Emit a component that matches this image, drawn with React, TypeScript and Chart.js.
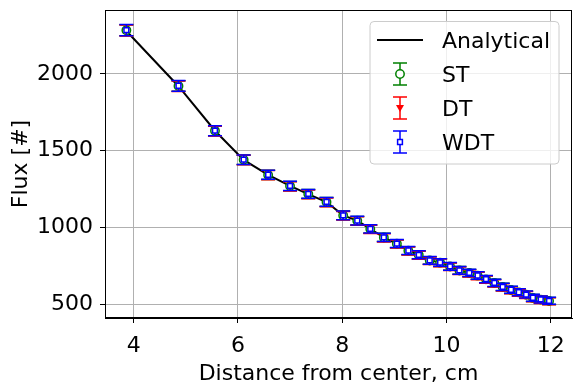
import React, { useEffect, useRef } from "react";
import { Chart, registerables } from "chart.js";
Chart.register(...registerables);

const distance = [3.86, 4.86, 5.56, 6.11, 6.58, 7.0, 7.35, 7.7, 8.02, 8.29, 8.54, 8.8, 9.05, 9.27, 9.47, 9.68, 9.88, 10.07, 10.25, 10.44, 10.6, 10.76, 10.92, 11.08, 11.24, 11.39, 11.53, 11.66, 11.81, 11.97];
const analytical = [2280, 1920, 1630, 1440, 1342, 1270, 1217, 1165, 1078, 1044, 990, 934, 893, 848, 820, 786, 770, 745, 720, 702, 685, 661, 637, 612, 592, 576, 561, 542, 530, 520];
const stFlux = [2285, 1922, 1629, 1441, 1342, 1269, 1217, 1165, 1078, 1043, 989, 934, 893, 848, 820, 784, 770, 745, 719, 702, 685, 661, 637, 611, 592, 576, 561, 540, 529, 520];
const dtFlux = [2283, 1920, 1627, 1439, 1340, 1267, 1215, 1163, 1076, 1041, 987, 932, 891, 846, 818, 782, 768, 743, 717, 700, 683, 659, 635, 609, 590, 574, 559, 538, 527, 518];
const wdtFlux = [2286, 1923, 1630, 1441, 1343, 1270, 1218, 1166, 1078, 1044, 990, 935, 894, 849, 821, 785, 771, 746, 720, 703, 686, 662, 638, 612, 593, 577, 562, 541, 530, 521];
const stErr = [36, 34, 32, 31, 30, 30, 29, 29, 28, 28, 27, 27, 26, 26, 26, 25, 25, 25, 25, 24, 24, 24, 24, 24, 23, 23, 23, 23, 23, 23];
const dtErr = [36, 34, 32, 31, 30, 30, 29, 29, 28, 28, 27, 27, 26, 26, 26, 25, 25, 25, 25, 24, 24, 24, 24, 24, 23, 23, 23, 23, 23, 23];
const wdtErr = [37, 35, 33, 31, 30, 30, 29, 29, 28, 28, 27, 27, 26, 26, 26, 25, 25, 25, 25, 24, 24, 24, 24, 24, 23, 23, 23, 23, 23, 23];
const xTicks = [4, 6, 8, 10, 12];
const yTicks = [500, 1000, 1500, 2000];
const seriesLabels = ["Analytical", "ST", "DT", "WDT"];

const FONT = "'DejaVu Sans', sans-serif";
const FS = 22;
const CAP = 7;

const errorBarPlugin = {
  id: "errorBars",
  beforeDatasetDraw(chart: any, args: any) {
    const ds: any = chart.data.datasets[args.index];
    const errs: number[] | undefined = ds.errors;
    if (!errs) return;
    const xs = chart.scales.x;
    const ys = chart.scales.y;
    const ctx = chart.ctx;
    ctx.save();
    ctx.strokeStyle = ds.borderColor;
    ctx.lineWidth = 1.5;
    ds.data.forEach((p: any, i: number) => {
      const px = xs.getPixelForValue(p.x);
      const top = ys.getPixelForValue(p.y + errs[i]);
      const bot = ys.getPixelForValue(p.y - errs[i]);
      ctx.beginPath();
      ctx.moveTo(px, top);
      ctx.lineTo(px, bot);
      ctx.moveTo(px - CAP, top);
      ctx.lineTo(px + CAP, top);
      ctx.moveTo(px - CAP, bot);
      ctx.lineTo(px + CAP, bot);
      ctx.stroke();
    });
    ctx.restore();
  },
};

function drawMarker(ctx: CanvasRenderingContext2D, kind: string, x: number, y: number, color: string) {
  ctx.save();
  ctx.lineWidth = 1.5;
  ctx.strokeStyle = color;
  if (kind === "circle") {
    ctx.fillStyle = "#ffffff";
    ctx.beginPath();
    ctx.arc(x, y, 4.2, 0, Math.PI * 2);
    ctx.fill();
    ctx.stroke();
  } else if (kind === "tri") {
    ctx.fillStyle = color;
    ctx.beginPath();
    ctx.moveTo(x - 4, y - 3);
    ctx.lineTo(x + 4, y - 3);
    ctx.lineTo(x, y + 4);
    ctx.closePath();
    ctx.fill();
  } else {
    ctx.fillStyle = "#ffffff";
    ctx.beginPath();
    ctx.rect(x - 2.4, y - 2.4, 4.8, 4.8);
    ctx.fill();
    ctx.stroke();
  }
  ctx.restore();
}

const framePlugin = {
  id: "frameLegend",
  afterDraw(chart: any) {
    const ctx: CanvasRenderingContext2D = chart.ctx;
    const a = chart.chartArea;
    ctx.save();
    ctx.strokeStyle = "#000";
    ctx.lineWidth = 1;
    ctx.strokeRect(Math.round(a.left) + 0.5, Math.round(a.top) + 0.5, Math.round(a.right - a.left) - 1, Math.round(a.bottom - a.top) - 1);

    // legend
    const bx = 370, by = 21.5, bw = 189, bh = 142.5, r = 4;
    ctx.beginPath();
    ctx.moveTo(bx + r, by);
    ctx.lineTo(bx + bw - r, by);
    ctx.arcTo(bx + bw, by, bx + bw, by + r, r);
    ctx.lineTo(bx + bw, by + bh - r);
    ctx.arcTo(bx + bw, by + bh, bx + bw - r, by + bh, r);
    ctx.lineTo(bx + r, by + bh);
    ctx.arcTo(bx, by + bh, bx, by + bh - r, r);
    ctx.lineTo(bx, by + r);
    ctx.arcTo(bx, by, bx + r, by, r);
    ctx.closePath();
    ctx.fillStyle = "rgba(255,255,255,0.8)";
    ctx.fill();
    ctx.strokeStyle = "#cccccc";
    ctx.lineWidth = 1;
    ctx.stroke();

    const rows = [40, 74, 108, 142];
    const colors = ["#000000", "#008000", "#ff0000", "#0000ff"];
    const kinds = ["line", "circle", "tri", "rect"];
    const hx = 400;
    rows.forEach((ry, i) => {
      if (kinds[i] === "line") {
        ctx.strokeStyle = "#000";
        ctx.lineWidth = 2;
        ctx.beginPath();
        ctx.moveTo(377, ry);
        ctx.lineTo(423, ry);
        ctx.stroke();
      } else {
        ctx.strokeStyle = colors[i];
        ctx.lineWidth = 1.5;
        ctx.beginPath();
        ctx.moveTo(hx, ry - 11);
        ctx.lineTo(hx, ry + 11);
        ctx.moveTo(hx - CAP, ry - 11);
        ctx.lineTo(hx + CAP, ry - 11);
        ctx.moveTo(hx - CAP, ry + 11);
        ctx.lineTo(hx + CAP, ry + 11);
        ctx.stroke();
        drawMarker(ctx, kinds[i], hx, ry, colors[i]);
      }
      ctx.fillStyle = "#000";
      ctx.font = `${FS}px ${FONT}`;
      ctx.textAlign = "left";
      ctx.textBaseline = "alphabetic";
      ctx.fillText(seriesLabels[i], 442, ry + 7.5);
    });
    ctx.restore();
  },
};

function pts(ys: number[]) {
  return distance.map((x, i) => ({ x, y: ys[i] }));
}

export default function App() {
  const ref = useRef<HTMLCanvasElement | null>(null);
  useEffect(() => {
    if (!ref.current) return;
    const chart = new Chart(ref.current, {
      type: "scatter",
      data: {
        datasets: [
          {
            type: "line",
            label: seriesLabels[0],
            data: pts(analytical),
            borderColor: "#000000",
            borderWidth: 2,
            pointRadius: 0,
            fill: false,
            tension: 0,
            order: 4,
          } as any,
          {
            label: seriesLabels[1],
            data: pts(stFlux),
            errors: stErr,
            borderColor: "#008000",
            backgroundColor: "#ffffff",
            pointStyle: "circle",
            pointRadius: 4.2,
            pointBorderWidth: 1.5,
            order: 3,
          } as any,
          {
            label: seriesLabels[2],
            data: pts(dtFlux),
            errors: dtErr,
            borderColor: "#ff0000",
            backgroundColor: "#ff0000",
            pointStyle: "triangle",
            rotation: 180,
            pointRadius: 4,
            pointBorderWidth: 0,
            order: 2,
          } as any,
          {
            label: seriesLabels[3],
            data: pts(wdtFlux),
            errors: wdtErr,
            borderColor: "#0000ff",
            backgroundColor: "#ffffff",
            pointStyle: "rect",
            pointRadius: 3.4,
            pointBorderWidth: 1.5,
            order: 1,
          } as any,
        ],
      },
      options: {
        animation: false,
        responsive: false,
        layout: { padding: { top: 10, right: 7, left: 0, bottom: 0 } },
        plugins: { legend: { display: false }, tooltip: { enabled: false } },
        scales: {
          x: {
            type: "linear",
            min: 3.45,
            max: 12.41,
            afterFit: (s: any) => { s.height = 71; s.paddingLeft = 0; s.paddingRight = 0; },
            afterBuildTicks: (s: any) => { s.ticks = xTicks.map((v) => ({ value: v })); },
            grid: { color: "#b0b0b0", lineWidth: 1, tickColor: "#000", tickLength: 5, drawTicks: true },
            border: { display: true, color: "#000", width: 1 },
            ticks: { font: { family: FONT, size: FS }, color: "#000", padding: 10, maxRotation: 0, callback: (v: any) => String(v) },
            title: { display: true, text: "Distance from center, cm", font: { family: FONT, size: FS }, color: "#000", padding: { top: 0, bottom: 2 } },
          },
          y: {
            type: "linear",
            min: 409,
            max: 2417,
            afterFit: (s: any) => { s.width = 105; s.paddingTop = 0; s.paddingBottom = 0; },
            afterBuildTicks: (s: any) => { s.ticks = yTicks.map((v) => ({ value: v })); },
            grid: { color: "#b0b0b0", lineWidth: 1, tickColor: "#000", tickLength: 5, drawTicks: true },
            border: { display: true, color: "#000", width: 1 },
            ticks: { font: { family: FONT, size: FS }, color: "#000", padding: 7, callback: (v: any) => String(v) },
            title: { display: true, text: "Flux [#]", font: { family: FONT, size: FS }, color: "#000", padding: { top: 8, bottom: 0 } },
          },
        },
      },
      plugins: [errorBarPlugin, framePlugin],
    } as any);
    return () => chart.destroy();
  }, []);
  return (
    <div style={{ position: "fixed", left: 0, top: 0, width: 579, height: 389, background: "#fff" }}>
      <canvas ref={ref} width={579} height={389} style={{ width: 579, height: 389, display: "block" }} />
    </div>
  );
}
